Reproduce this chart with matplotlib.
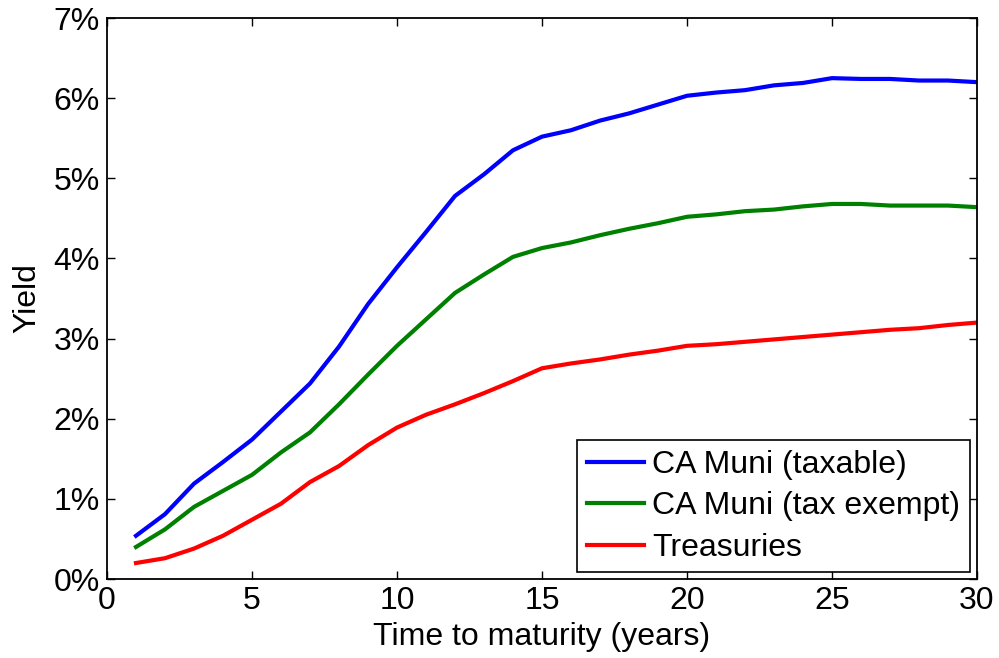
import matplotlib
matplotlib.use("Agg")
import matplotlib.pyplot as plt
from matplotlib.ticker import FuncFormatter

maturity = list(range(1, 31))
ca_muni_taxable = [0.54, 0.81, 1.19, 1.46, 1.74, 2.09, 2.44, 2.90, 3.43, 3.89,
                   4.33, 4.78, 5.05, 5.35, 5.52, 5.60, 5.72, 5.81, 5.92, 6.03,
                   6.07, 6.10, 6.16, 6.19, 6.25, 6.24, 6.24, 6.22, 6.22, 6.20]
ca_muni_exempt = [0.40, 0.62, 0.90, 1.10, 1.30, 1.58, 1.83, 2.18, 2.55, 2.91,
                  3.24, 3.57, 3.80, 4.02, 4.13, 4.20, 4.29, 4.37, 4.44, 4.52,
                  4.55, 4.59, 4.61, 4.65, 4.68, 4.68, 4.66, 4.66, 4.66, 4.64]
treasuries = [0.20, 0.26, 0.38, 0.54, 0.74, 0.94, 1.21, 1.41, 1.67, 1.89,
              2.05, 2.18, 2.32, 2.47, 2.63, 2.69, 2.74, 2.80, 2.85, 2.91,
              2.93, 2.96, 2.99, 3.02, 3.05, 3.08, 3.11, 3.13, 3.17, 3.20]
series_labels = ["CA Muni (taxable)", "CA Muni (tax exempt)", "Treasuries"]
x_ticks = [0, 5, 10, 15, 20, 25, 30]
y_ticks = [0, 1, 2, 3, 4, 5, 6, 7]

plt.rcParams['font.family'] = ['Liberation Sans', 'DejaVu Sans']

fig = plt.figure(figsize=(9.99, 6.58), dpi=100)
ax = fig.add_axes([0.1071, 0.12, 0.8709, 0.8526])

ax.plot(maturity, ca_muni_taxable, color='#0000ff', lw=3, label=series_labels[0])
ax.plot(maturity, ca_muni_exempt, color='#008000', lw=3, label=series_labels[1])
ax.plot(maturity, treasuries, color='#ff0000', lw=3, label=series_labels[2])

ax.set_xlim(0, 30)
ax.set_ylim(0, 7)
ax.set_xticks(x_ticks)
ax.set_yticks(y_ticks)
ax.yaxis.set_major_formatter(FuncFormatter(lambda v, p: f"{int(round(v))}%"))
ax.tick_params(direction='in', length=5.5, width=1, top=True, right=True,
               labelsize=23, pad=5)
for s in ax.spines.values():
    s.set_linewidth(1.3)

ax.set_xlabel("Time to maturity (years)", fontsize=23, labelpad=4)
ax.set_ylabel("Yield", fontsize=23, labelpad=8)

leg = ax.legend(loc='lower right', bbox_to_anchor=(0.9915, 0.012), fontsize=23,
                frameon=True, fancybox=False, framealpha=1, edgecolor='black',
                handlelength=1.8, handletextpad=0.25, borderpad=0.3,
                labelspacing=0.36, borderaxespad=0)
leg.get_frame().set_linewidth(1.2)

fig.savefig("out.png", dpi=100)
